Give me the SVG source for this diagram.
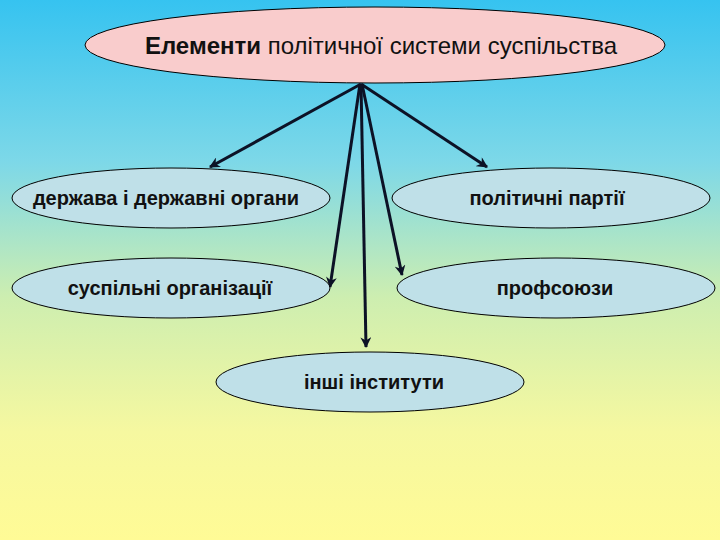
<svg xmlns="http://www.w3.org/2000/svg" width="720" height="540" viewBox="0 0 720 540">
<defs>
<linearGradient id="bg" x1="0" y1="0" x2="0" y2="1">
<stop offset="0" stop-color="#36c3f0"/>
<stop offset="0.3" stop-color="#7dd8e8"/>
<stop offset="0.55" stop-color="#cdeeb0"/>
<stop offset="0.8" stop-color="#f6f8a0"/>
<stop offset="1" stop-color="#fffb96"/>
</linearGradient>
<marker id="ah" viewBox="0 0 10 10" refX="9" refY="5" markerWidth="4" markerHeight="3.6" orient="auto" markerUnits="strokeWidth">
<path d="M0,0 L10,5 L0,10 L3,5 z" fill="#0c1226"/>
</marker>
<style>
.node{fill:#bfe0e8;stroke:#000;stroke-width:1}
.top{fill:#f9cccc;stroke:#000;stroke-width:1}
.lbl{font-family:"Liberation Sans",Arial,sans-serif;font-size:20px;font-weight:bold;fill:#111;text-anchor:middle}
.conn line{stroke:#0c1226;stroke-width:3;marker-end:url(#ah)}
</style>
</defs>
<rect width="720" height="540" fill="url(#bg)"/>
<g id="root">
<ellipse class="top" cx="375" cy="45" rx="290" ry="38"/>
<text x="381" y="54" font-family="'Liberation Sans',Arial,sans-serif" font-size="24" fill="#111" text-anchor="middle"><tspan font-weight="bold">Елементи</tspan> політичної системи суспільства</text>
</g>
<g class="conn" id="connectors">
<line x1="361" y1="84" x2="210" y2="167"/>
<line x1="361" y1="84" x2="487" y2="167"/>
<line x1="360" y1="84" x2="330" y2="287"/>
<line x1="362" y1="84" x2="402" y2="275"/>
<line x1="361" y1="84" x2="366" y2="347"/>
</g>
<g id="state">
<ellipse class="node" cx="171" cy="198" rx="159" ry="30"/>
<text class="lbl" x="166" y="205">держава і державні органи</text>
</g>
<g id="parties">
<ellipse class="node" cx="551" cy="198" rx="159" ry="30"/>
<text class="lbl" x="547" y="205">політичні партії</text>
</g>
<g id="social">
<ellipse class="node" cx="171" cy="288" rx="159" ry="30"/>
<text class="lbl" x="170" y="295">суспільні організації</text>
</g>
<g id="unions">
<ellipse class="node" cx="556" cy="288" rx="159" ry="30"/>
<text class="lbl" x="555" y="295">профсоюзи</text>
</g>
<g id="other">
<ellipse class="node" cx="370" cy="382" rx="154" ry="30"/>
<text class="lbl" x="374" y="389">інші інститути</text>
</g>
</svg>
